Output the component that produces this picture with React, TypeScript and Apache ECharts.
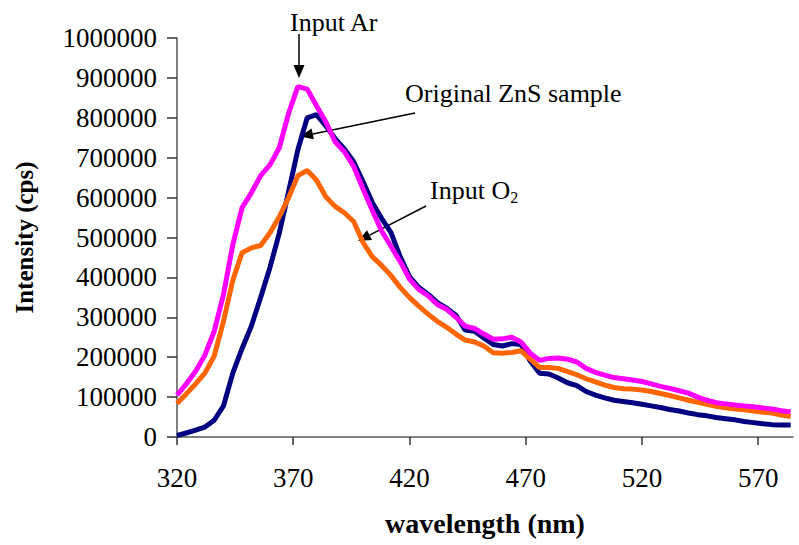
import React, { useEffect, useRef } from "react";
import * as echarts from "echarts";

const wavelengths = [320,324,328,332,336,340,344,348,352,356,360,364,368,372,376,380,384,388,392,396,400,404,408,412,416,420,424,428,432,436,440,444,448,452,456,460,464,468,472,476,480,484,488,492,496,500,504,508,512,516,520,524,528,532,536,540,544,548,552,556,560,564,568,572,576,580,584];

const inputAr = [105000,133000,165000,205000,265000,357000,482000,575000,612000,655000,682000,725000,811000,878000,872000,830000,790000,740000,715000,678000,622000,568000,517000,478000,440000,396000,370000,354000,332000,320000,300000,278000,272000,258000,245000,246000,250000,238000,210000,192000,197000,198000,195000,188000,172000,162000,155000,149000,146000,143000,139000,133000,127000,122000,116000,110000,100000,92000,86000,83000,80000,78000,76000,73000,70000,66000,63000];

const originalZnS = [4000,10000,17000,25000,42000,78000,160000,222000,278000,350000,425000,511000,615000,720000,800000,808000,780000,748000,722000,690000,640000,588000,548000,513000,452000,402000,375000,358000,337000,323000,305000,268000,265000,248000,232000,228000,234000,232000,190000,160000,158000,148000,136000,129000,114000,105000,98000,92000,89000,86000,82000,78000,74000,69000,65000,60000,56000,53000,49000,46000,43000,39000,36000,33000,31000,30000,30000];

const inputO2 = [84000,108000,133000,160000,203000,290000,393000,462000,474000,480000,512000,552000,600000,655000,668000,644000,602000,578000,562000,540000,488000,452000,430000,405000,375000,350000,328000,308000,290000,275000,258000,243000,238000,228000,211000,210000,212000,216000,195000,174000,174000,172000,164000,156000,146000,138000,130000,124000,121000,120000,118000,114000,109000,104000,98000,92000,87000,82000,77000,73000,70000,68000,65000,62000,60000,55000,51000];

const xTicks = [320, 370, 420, 470, 520, 570];

const FONT = "'Liberation Serif', 'Times New Roman', serif";

function arrow(x1: number, y1: number, x2: number, y2: number) {
  const dx = x2 - x1;
  const dy = y2 - y1;
  const len = Math.sqrt(dx * dx + dy * dy);
  const ux = dx / len;
  const uy = dy / len;
  const L = 13;
  const W = 5.5;
  const bx = x2 - ux * L;
  const by = y2 - uy * L;
  const px = -uy;
  const py = ux;
  return [
    {
      type: "line",
      shape: { x1, y1, x2: bx, y2: by },
      style: { stroke: "#000", lineWidth: 1.5 },
    },
    {
      type: "polygon",
      shape: {
        points: [
          [x2, y2],
          [bx + px * W, by + py * W],
          [bx - px * W, by - py * W],
        ],
      },
      style: { fill: "#000" },
    },
  ];
}

function zip(vals: number[]) {
  return wavelengths.map((w, i) => [w, vals[i]]);
}

export default function App() {
  const ref = useRef<HTMLDivElement>(null);
  useEffect(() => {
    document.body.style.margin = "0";
    if (!ref.current) return;
    const chart = echarts.init(ref.current, null, { renderer: "svg" });
    const lineSeries = (name: string, vals: number[], color: string, z: number) => ({
      name,
      type: "line",
      data: zip(vals),
      showSymbol: false,
      symbol: "none",
      z,
      lineStyle: { color, width: 5 },
      itemStyle: { color },
    });
    chart.setOption({
      animation: false,
      backgroundColor: "#fff",
      grid: { left: 177, right: 6, top: 38, bottom: 108, containLabel: false, outerBoundsMode: "none" },
      xAxis: {
        type: "value",
        min: 320,
        max: 585,
        name: "wavelength (nm)",
        nameLocation: "middle",
        nameGap: 72,
        nameTextStyle: { fontFamily: FONT, fontWeight: "bold", fontSize: 28, color: "#000" },
        axisLine: { lineStyle: { color: "#555", width: 1.5 } },
        axisTick: { show: true, length: 8, customValues: xTicks, lineStyle: { color: "#333", width: 1.5 } },
        axisLabel: {
          customValues: xTicks,
          fontFamily: FONT,
          fontSize: 27,
          color: "#000",
          margin: 27,
        },
        splitLine: { show: false },
      },
      yAxis: {
        type: "value",
        min: 0,
        max: 1000000,
        interval: 100000,
        name: "Intensity (cps)",
        nameLocation: "middle",
        nameGap: 140,
        nameTextStyle: { fontFamily: FONT, fontWeight: "bold", fontSize: 25, color: "#000" },
        axisLine: { show: true, lineStyle: { color: "#555", width: 1.5 } },
        axisTick: { show: true, length: 10, lineStyle: { color: "#333", width: 1.5 } },
        axisLabel: {
          fontFamily: FONT,
          fontSize: 27,
          color: "#000",
          margin: 20,
          formatter: (v: number) => String(v),
        },
        splitLine: { show: false },
      },
      series: [
        lineSeries("Original ZnS sample", originalZnS, "#000080", 2),
        lineSeries("Input O2", inputO2, "#FF6600", 3),
        lineSeries("Input Ar", inputAr, "#FF00FF", 4),
      ],
      graphic: [
        {
          type: "text",
          x: 290,
          y: 22,
          style: { text: "Input Ar", font: `26px ${FONT}`, fill: "#000", verticalAlign: "middle" },
        },
        ...arrow(299, 34, 299, 78),
        {
          type: "text",
          x: 405,
          y: 93,
          style: { text: "Original ZnS sample", font: `26px ${FONT}`, fill: "#000", verticalAlign: "middle" },
        },
        ...arrow(415, 113, 300, 136.5),
        {
          type: "text",
          x: 430,
          y: 190,
          style: {
            text: "Input O{sub|2}",
            font: `26px ${FONT}`,
            fill: "#000",
            verticalAlign: "middle",
            rich: {
              sub: { fontFamily: FONT, fontSize: 16, fill: "#000", padding: [14, 0, 0, 0] },
            },
          },
        },
        ...arrow(426, 206, 358, 241),
      ],
    });
    return () => chart.dispose();
  }, []);
  return <div ref={ref} style={{ width: 799, height: 545 }} />;
}
